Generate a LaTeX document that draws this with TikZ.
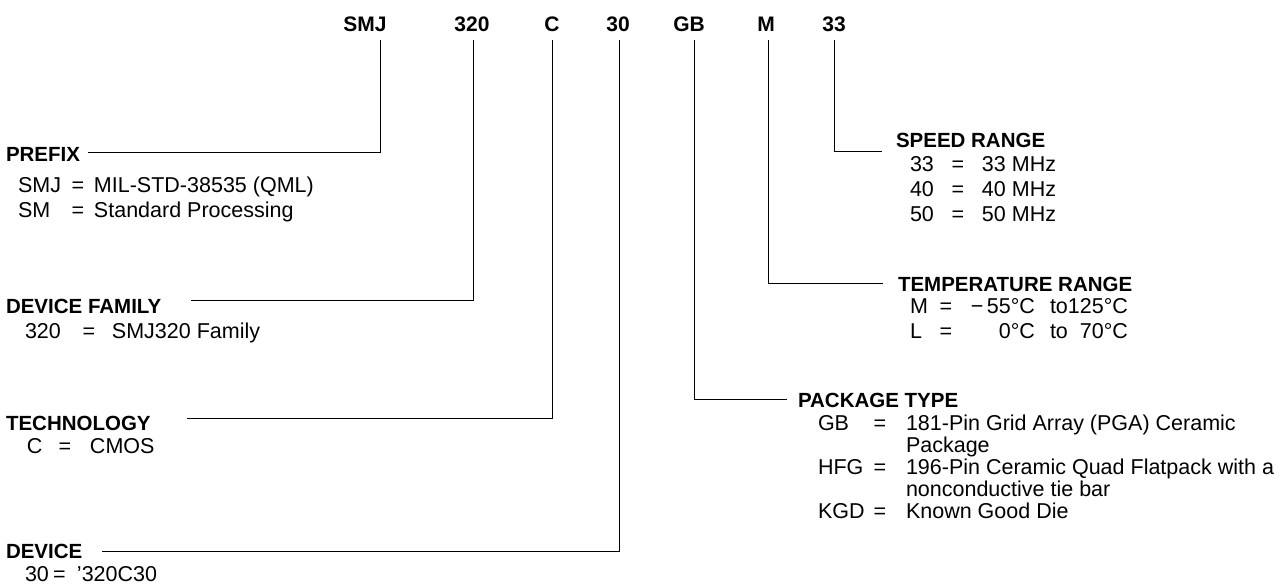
\documentclass[tikz,border=0pt]{standalone}
\usepackage{fontspec}
\setmainfont{Liberation Sans}

\begin{document}
\begin{tikzpicture}[x=1pt, y=-1pt,
  every node/.style = {inner sep=0pt, outer sep=0pt},
  code/.style = {anchor=base, font=\fontsize{21}{25}\selectfont\bfseries},
  head/.style = {anchor=base west, font=\fontsize{20.5}{25}\selectfont\bfseries},
  list/.style = {anchor=base west, font=\fontsize{21.5}{25}\selectfont},
  lead/.style = {draw, line width=1pt}]

  \useasboundingbox (0,0) rectangle (1281,585);

  % part number
  \node[code] (smj) at (365,32) {SMJ};
  \node[code] (fam) at (472,32) {320};
  \node[code] (tec) at (552,32) {C};
  \node[code] (dev) at (618,32) {30};
  \node[code] (pkg) at (689,32) {GB};
  \node[code] (tmp) at (766,32) {M};
  \node[code] (spd) at (834,32) {33};

  \coordinate (smj-t) at (380,40);
  \coordinate (fam-t) at (473,40);
  \coordinate (tec-t) at (552,40);
  \coordinate (dev-t) at (619,40);
  \coordinate (pkg-t) at (694,40);
  \coordinate (tmp-t) at (768,40);
  \coordinate (spd-t) at (834,40);

  % left side
  \node[head] (prefix) at (6,162) {PREFIX};
  \node[list] (prefix-list) at (18,193) {\begin{tabular}[t]{@{}l@{}}
    \makebox[44pt][l]{SMJ}\makebox[32pt]{=}MIL-STD-38535 (QML)\\
    \makebox[44pt][l]{SM}\makebox[32pt]{=}Standard Processing
  \end{tabular}};

  \node[head] (family) at (6,313) {DEVICE FAMILY};
  \node[list] (family-list) at (25,338) {\makebox[41pt][l]{320}\makebox[46pt]{=}SMJ320 Family};

  \node[head] (techno) at (6,430) {TECHNOLOGY};
  \node[list] (techno-list) at (27,453) {\makebox[13pt][l]{C}\makebox[50pt]{=}CMOS};

  \node[head] (device) at (6,558) {DEVICE};
  \node[list] (device-list) at (25,581) {\makebox[17pt][l]{30}\makebox[35pt]{=}'320C30};

  % right side
  \node[head] (speed) at (896,148) {SPEED RANGE};
  \node[list] (speed-list) at (910,172) {\begin{tabular}[t]{@{}l@{}}
    \makebox[24pt][l]{33}\makebox[48pt]{=}33 MHz\\
    \makebox[24pt][l]{40}\makebox[48pt]{=}40 MHz\\
    \makebox[24pt][l]{50}\makebox[48pt]{=}50 MHz
  \end{tabular}};

  \node[head] (temp) at (898,291) {TEMPERATURE RANGE};
  \node[list] (temp-list) at (910,313) {\begin{tabular}[t]{@{}l@{}}
    \makebox[24pt][l]{M}\makebox[24pt]{=}\makebox[77pt][r]{−\,55°C}\hspace{15pt}\makebox[18pt][l]{to}\makebox[60pt][r]{125°C}\\
    \makebox[24pt][l]{L}\makebox[24pt]{=}\makebox[77pt][r]{0°C}\hspace{15pt}\makebox[18pt][l]{to}\makebox[60pt][r]{70°C}
  \end{tabular}};

  \node[head] (package) at (798,407) {PACKAGE TYPE};
  \node[list, font=\fontsize{21.5}{22}\selectfont] (package-list) at (818,430) {\begin{tabular}[t]{@{}l@{}}
    \makebox[36pt][l]{GB}\makebox[52pt]{=}181-Pin Grid Array (PGA) Ceramic\\
    \makebox[88pt]{}Package\\
    \makebox[36pt][l]{HFG}\makebox[52pt]{=}196-Pin Ceramic Quad Flatpack with a\\
    \makebox[88pt]{}nonconductive tie bar\\
    \makebox[36pt][l]{KGD}\makebox[52pt]{=}Known Good Die
  \end{tabular}};

  % leaders
  \draw[lead] (smj-t) |- ([xshift=8pt,yshift=2pt]prefix.east);
  \draw[lead] (fam-t) |- ([xshift=30pt,yshift=5pt]family.east);
  \draw[lead] (tec-t) |- ([xshift=36pt,yshift=4pt]techno.east);
  \draw[lead] (dev-t) |- ([xshift=20pt,yshift=-1pt]device.east);
  \draw[lead] (spd-t) |- ([xshift=-14pt,yshift=-4pt]speed.base west);
  \draw[lead] (tmp-t) |- ([xshift=-15pt]temp.west);
  \draw[lead] (pkg-t) |- ([xshift=-11pt]package.west);
\end{tikzpicture}
\end{document}
